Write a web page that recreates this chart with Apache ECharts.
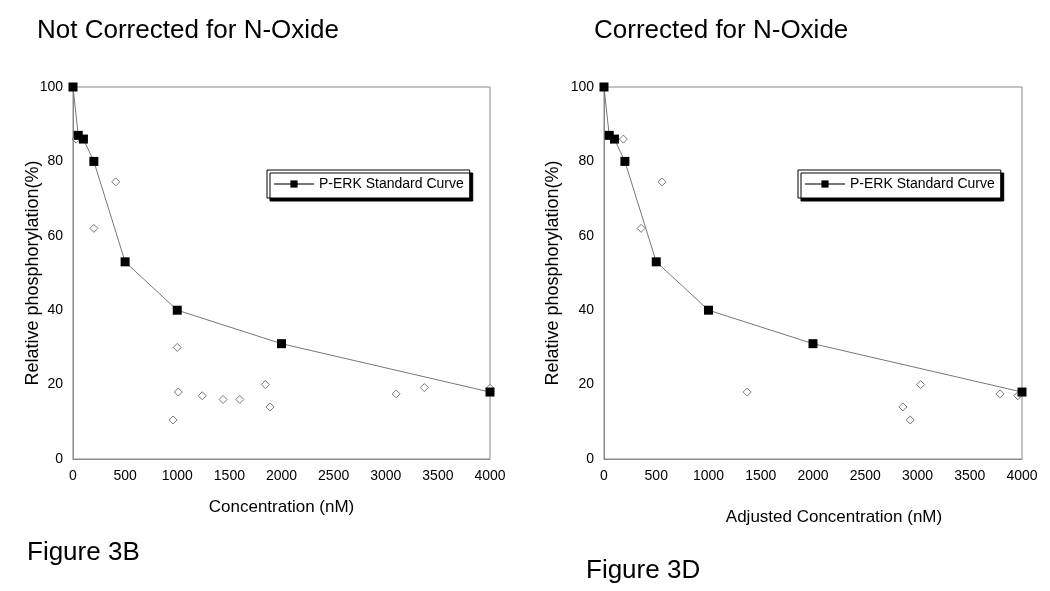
<!DOCTYPE html>
<html>
<head>
<meta charset="utf-8">
<script src="https://cdn.jsdelivr.net/npm/echarts@6/dist/echarts.min.js"></script>
<style>
  html, body { margin: 0; padding: 0; background: #fff; }
  #chart { width: 1050px; height: 591px; }
</style>
</head>
<body>
<div id="chart"></div>
<script>
// standard curve (same in both panels)
const stdConc = [0, 50, 100, 200, 500, 1000, 2000, 4000];
const stdPhos = [100, 87, 86, 80, 53, 40, 31, 18];

// samples, not corrected (Figure 3B)
const rawConc = [30, 200, 410, 960, 1000, 1010, 1240, 1440, 1600, 1845, 1890, 3100, 3370, 4000];
const rawPhos = [86, 62, 74.5, 10.5, 30, 18, 17, 16, 16, 20, 14, 17.5, 19.2, 19];

// samples, corrected (Figure 3D)
const adjConc = [185, 355, 555, 1370, 2860, 2930, 3030, 3790, 3960];
const adjPhos = [86, 62, 74.5, 18, 14, 10.5, 20, 17.5, 17];

const xTicks = [0, 4000, 500];   // min, max, interval
const yTicks = [0, 100, 20];

const FONT = 'Liberation Sans, Arial, sans-serif';
const pairs = (xs, ys) => xs.map((x, i) => [x, ys[i]]);

const chart = echarts.init(document.getElementById('chart'));

const gridBase = { top: 87, height: 372, show: true, borderColor: '#888', borderWidth: 1, backgroundColor: '#fff' };

const xAxisBase = (idx, name, pad) => ({
  type: 'value', gridIndex: idx,
  min: xTicks[0], max: xTicks[1], interval: xTicks[2],
  name: name, nameLocation: 'middle', nameGap: pad.gap,
  nameTextStyle: { fontFamily: FONT, fontSize: 17, color: '#000', padding: pad.padding },
  axisLine: { show: true, lineStyle: { color: '#888' } },
  axisTick: { show: false },
  splitLine: { show: false },
  axisLabel: { fontFamily: FONT, fontSize: 14, color: '#000', margin: 10, formatter: v => String(v) }
});

const yAxisBase = (idx, gap) => ({
  type: 'value', gridIndex: idx,
  min: yTicks[0], max: yTicks[1], interval: yTicks[2],
  name: 'Relative phosphorylation(%)', nameLocation: 'middle', nameGap: gap,
  nameMoveOverlap: false,
  nameTextStyle: { fontFamily: FONT, fontSize: 18, color: '#000' },
  axisLine: { show: true, lineStyle: { color: '#888' } },
  axisTick: { show: false },
  splitLine: { show: false },
  axisLabel: { fontFamily: FONT, fontSize: 14, color: '#000', margin: 10 }
});

const legendBase = (left) => ({
  data: ['P-ERK Standard Curve'],
  left: left, top: 170,
  orient: 'vertical',
  padding: [7, 6, 7, 6],
  itemWidth: 40, itemHeight: 9,
  backgroundColor: '#fff',
  borderColor: '#000', borderWidth: 1,
  shadowColor: '#000', shadowBlur: 0, shadowOffsetX: 3, shadowOffsetY: 3,
  textStyle: { fontFamily: FONT, fontSize: 14, color: '#000' },
  selectedMode: false
});

const stdSeries = (idx) => ({
  name: 'P-ERK Standard Curve', type: 'line',
  xAxisIndex: idx, yAxisIndex: idx,
  data: pairs(stdConc, stdPhos),
  symbol: 'rect', symbolSize: 9,
  lineStyle: { color: '#777', width: 1 },
  itemStyle: { color: '#000' },
  z: 3
});

const sampleSeries = (idx, xs, ys) => ({
  name: 'samples', type: 'scatter',
  xAxisIndex: idx, yAxisIndex: idx,
  data: pairs(xs, ys),
  symbol: 'diamond', symbolSize: 8,
  itemStyle: { color: '#fff', borderColor: '#555', borderWidth: 1 },
  z: 2
});

const option = {
  animation: false,
  title: [
    { text: 'Not Corrected for N-Oxide', left: 37, top: 18, padding: 0,
      textStyle: { fontFamily: FONT, fontSize: 26, fontWeight: 'normal', color: '#000' } },
    { text: 'Corrected for N-Oxide', left: 594, top: 18, padding: 0,
      textStyle: { fontFamily: FONT, fontSize: 26, fontWeight: 'normal', color: '#000' } },
    { text: 'Figure 3B', left: 27, top: 540, padding: 0,
      textStyle: { fontFamily: FONT, fontSize: 26, fontWeight: 'normal', color: '#000' } },
    { text: 'Figure 3D', left: 586, top: 558, padding: 0,
      textStyle: { fontFamily: FONT, fontSize: 26, fontWeight: 'normal', color: '#000' } }
  ],
  grid: [
    Object.assign({ left: 73, width: 417 }, gridBase),
    Object.assign({ left: 604, width: 418 }, gridBase)
  ],
  xAxis: [
    xAxisBase(0, 'Concentration (nM)', { gap: 40, padding: 0 }),
    xAxisBase(1, 'Adjusted Concentration (nM)', { gap: 50, padding: [0, 0, 0, 42] })
  ],
  yAxis: [
    yAxisBase(0, 31),
    yAxisBase(1, 42)
  ],
  legend: [legendBase(267), legendBase(798)],
  series: [
    sampleSeries(0, rawConc, rawPhos),
    stdSeries(0),
    sampleSeries(1, adjConc, adjPhos),
    stdSeries(1)
  ]
};

chart.setOption(option);
</script>
</body>
</html>
